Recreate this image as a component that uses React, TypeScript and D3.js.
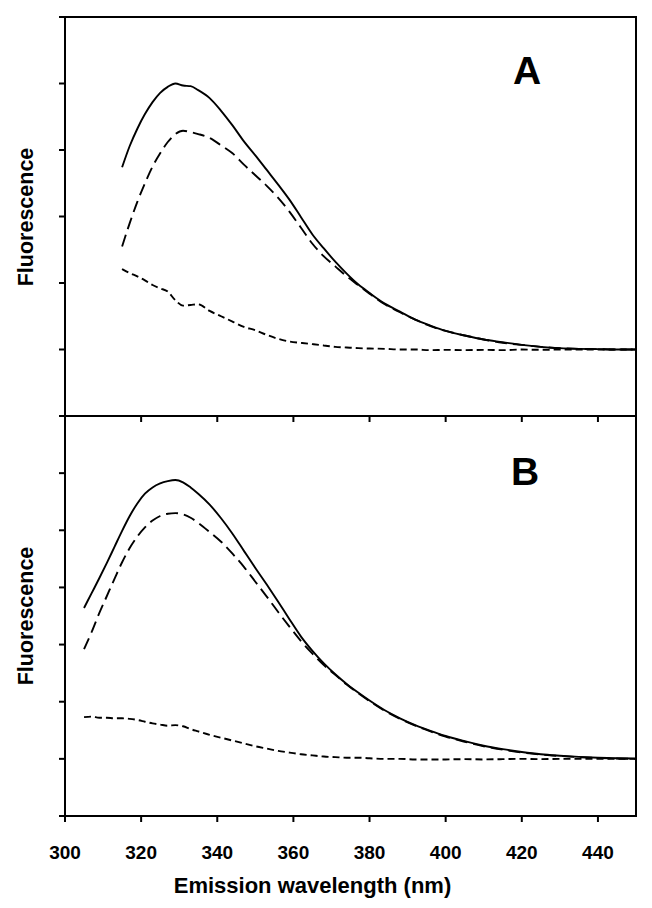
import React from "react";
import * as d3 from "d3";

// ---------- Data ----------
const xTicks = [300, 320, 340, 360, 380, 400, 420, 440];

// Panel A
const aNm = [315, 317, 319, 321, 323, 325, 327, 329, 331, 333, 335, 338, 341, 344, 347, 350, 353, 356, 359, 362, 365, 368, 371, 374, 377, 380, 384, 388, 392, 396, 400, 405, 410, 415, 420, 425, 430, 435, 440, 445, 450];
const aSolid = [3.74, 4.06, 4.32, 4.54, 4.72, 4.86, 4.95, 5.0, 4.97, 4.96, 4.9, 4.78, 4.59, 4.37, 4.13, 3.92, 3.7, 3.48, 3.25, 2.99, 2.73, 2.52, 2.32, 2.14, 1.98, 1.85, 1.69, 1.57, 1.45, 1.36, 1.28, 1.21, 1.15, 1.11, 1.07, 1.04, 1.02, 1.01, 1.005, 1.0, 1.0];
const aLongDash = [2.55, 2.9, 3.22, 3.5, 3.75, 3.95, 4.12, 4.24, 4.29, 4.27, 4.24, 4.18, 4.07, 3.95, 3.78, 3.62, 3.46, 3.28, 3.07, 2.83, 2.59, 2.4, 2.25, 2.1, 1.97, 1.84, 1.68, 1.56, 1.45, 1.35, 1.28, 1.21, 1.15, 1.1, 1.07, 1.04, 1.02, 1.01, 1.005, 1.0, 1.0];
const aShortDash = [2.21, 2.15, 2.1, 2.04, 1.97, 1.92, 1.87, 1.74, 1.66, 1.67, 1.68, 1.58, 1.5, 1.42, 1.34, 1.29, 1.22, 1.16, 1.12, 1.1, 1.08, 1.06, 1.04, 1.03, 1.02, 1.015, 1.01, 1.0, 1.0, 0.99, 0.995, 0.99, 0.995, 0.99, 1.0, 0.995, 1.0, 1.0, 1.0, 1.0, 1.0];

// Panel B
const bNm = [305, 307, 309, 311, 313, 315, 317, 319, 321, 323, 325, 327, 329, 331, 333, 335, 338, 341, 344, 347, 350, 353, 356, 359, 362, 365, 368, 371, 374, 377, 380, 384, 388, 392, 396, 400, 405, 410, 415, 420, 425, 430, 435, 440, 445, 450];
const bSolid = [3.64, 3.9, 4.16, 4.43, 4.71, 4.99, 5.25, 5.47, 5.64, 5.75, 5.82, 5.86, 5.88, 5.84, 5.75, 5.64, 5.45, 5.21, 4.94, 4.64, 4.34, 4.05, 3.75, 3.44, 3.14, 2.89, 2.67, 2.48, 2.31, 2.16, 2.02, 1.85, 1.71, 1.59, 1.49, 1.4, 1.31, 1.23, 1.17, 1.12, 1.08, 1.055, 1.035, 1.02, 1.01, 1.005];
const bLongDash = [2.92, 3.22, 3.55, 3.85, 4.15, 4.44, 4.69, 4.89, 5.05, 5.17, 5.25, 5.29, 5.3, 5.28, 5.22, 5.13, 4.97, 4.8, 4.59, 4.36, 4.1, 3.84, 3.57, 3.31, 3.06, 2.84, 2.64, 2.47, 2.3, 2.15, 2.01, 1.84, 1.7, 1.58, 1.48, 1.39, 1.3, 1.22, 1.16, 1.11, 1.075, 1.05, 1.03, 1.015, 1.005, 1.0];
const bShortDash = [1.73, 1.74, 1.72, 1.72, 1.71, 1.71, 1.7, 1.68, 1.65, 1.62, 1.6, 1.58, 1.59, 1.57, 1.52, 1.48, 1.42, 1.37, 1.32, 1.27, 1.22, 1.18, 1.14, 1.11, 1.08, 1.06, 1.04, 1.03, 1.02, 1.02, 1.01, 1.0, 1.0, 0.99, 0.99, 0.99, 0.995, 0.99, 0.995, 1.0, 0.995, 1.0, 1.0, 1.0, 1.0, 1.0];

const FONT = "'Liberation Sans', Arial, Helvetica, sans-serif";

const W = 652;
const H = 908;
const left = 65;
const right = 636;

const x = d3.scaleLinear().domain([300, 450]).range([left, right]);

type PanelProps = {
  nm: number[];
  solid: number[];
  longDash: number[];
  shortDash: number[];
  yMax: number;
  top: number;
  bottom: number;
  letter: string;
  letterX: number;
  letterY: number;
  labelY: number;
  xTickVals: number[];
};

function Panel(p: PanelProps) {
  const y = d3.scaleLinear().domain([0, p.yMax]).range([p.bottom, p.top]);
  const yTicks = d3.range(0, p.yMax + 1);
  const line = (vals: number[]) =>
    d3
      .line<number>()
      .x((_, i) => x(p.nm[i]))
      .y((v) => y(v))
      .curve(d3.curveMonotoneX)(vals) || "";
  return (
    <g>
      <path d={line(p.shortDash)} fill="none" stroke="#000" strokeWidth={1.9} strokeDasharray="7,4" />
      <path d={line(p.longDash)} fill="none" stroke="#000" strokeWidth={1.9} strokeDasharray="12,6" />
      <path d={line(p.solid)} fill="none" stroke="#000" strokeWidth={1.9} />
      <rect x={left} y={p.top} width={right - left} height={p.bottom - p.top} fill="none" stroke="#000" strokeWidth={2} />
      {yTicks.map((t) => (
        <line key={"y" + t} x1={left - 6} x2={left} y1={y(t)} y2={y(t)} stroke="#000" strokeWidth={2} />
      ))}
      {p.xTickVals.map((t) => (
        <line key={"x" + t} x1={x(t)} x2={x(t)} y1={p.bottom} y2={p.bottom + 6} stroke="#000" strokeWidth={2} />
      ))}
      <text
        x={p.letterX}
        y={p.letterY}
        textAnchor="middle"
        fontFamily={FONT}
        fontWeight="bold"
        fontSize={39}
        fill="#000"
      >
        {p.letter}
      </text>
      <text
        transform={`translate(33,${p.labelY}) rotate(-90)`}
        textAnchor="middle"
        fontFamily={FONT}
        fontWeight="bold"
        fontSize={21.5}
        fill="#000"
      >
        Fluorescence
      </text>
    </g>
  );
}

export default function App() {
  return (
    <svg
      width={W}
      height={H}
      viewBox={`0 0 ${W} ${H}`}
      style={{ position: "absolute", left: 0, top: 0, background: "#fff" }}
    >
      <rect x={0} y={0} width={W} height={H} fill="#fff" />
      <Panel
        nm={aNm}
        solid={aSolid}
        longDash={aLongDash}
        shortDash={aShortDash}
        yMax={6}
        top={17}
        bottom={416}
        letter="A"
        letterX={527}
        letterY={84}
        labelY={217}
        xTickVals={xTicks.slice(1)}
      />
      <Panel
        nm={bNm}
        solid={bSolid}
        longDash={bLongDash}
        shortDash={bShortDash}
        yMax={7}
        top={416}
        bottom={816}
        letter="B"
        letterX={525}
        letterY={485}
        labelY={616}
        xTickVals={xTicks}
      />
      {xTicks.map((t) => (
        <text
          key={"xl" + t}
          x={x(t)}
          y={859}
          textAnchor="middle"
          fontFamily={FONT}
          fontWeight="bold"
          fontSize={19}
          fill="#000"
        >
          {t}
        </text>
      ))}
      <text
        x={(left + right) / 2 - 38}
        y={893}
        textAnchor="middle"
        fontFamily={FONT}
        fontWeight="bold"
        fontSize={22}
        fill="#000"
      >
        Emission wavelength (nm)
      </text>
    </svg>
  );
}
